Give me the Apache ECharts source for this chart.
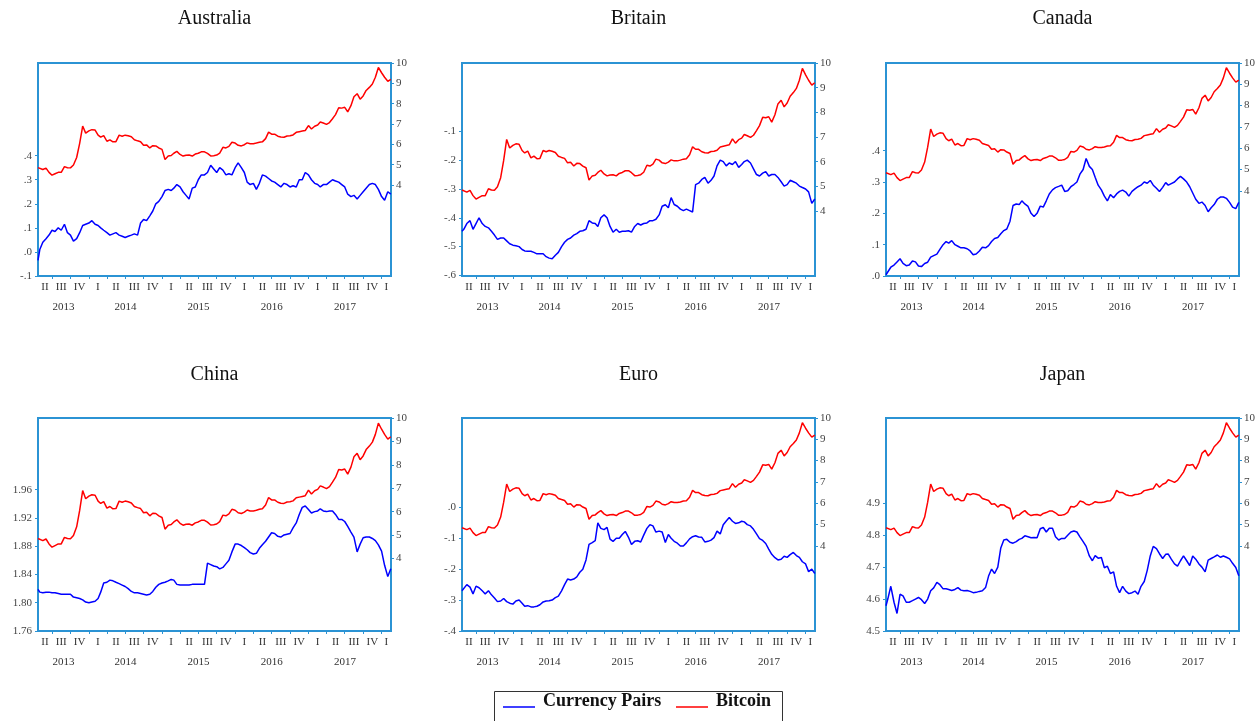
<!DOCTYPE html>
<html>
<head>
<meta charset="utf-8">
<script src="https://cdn.jsdelivr.net/npm/echarts@6/dist/echarts.min.js"></script>
<style>
  html, body { margin: 0; padding: 0; background: #ffffff; }
  #chart { width: 1260px; height: 721px; }
</style>
</head>
<body>
<div id="chart"></div>
<script>
// Observation dates: 22 Apr 2013, then the 1st and 16th of every month up to 16 Feb 2018
const obsDates = (function () {
  const d = [Date.UTC(2013, 3, 22)];
  let y = 2013, m = 4;
  while (y < 2018 || m <= 1) {
    d.push(Date.UTC(y, m, 1));
    d.push(Date.UTC(y, m, 16));
    m++;
    if (m > 11) { m = 0; y++; }
  }
  return d;
})();

// Bitcoin, log price (right axis of every panel)
const bitcoin = [
  4.85, 4.78, 4.76, 4.83, 4.62, 4.48, 4.55, 4.62, 4.62, 4.90,
  4.85, 4.84, 4.98, 5.35, 6.05, 6.90, 6.55, 6.66, 6.72, 6.70,
  6.45, 6.35, 6.43, 6.15, 6.22, 6.12, 6.13, 6.45, 6.40, 6.45,
  6.42, 6.37, 6.22, 6.17, 6.13, 5.95, 5.97, 5.82, 5.93, 5.92,
  5.82, 5.75, 5.25, 5.42, 5.45, 5.56, 5.65, 5.50, 5.42, 5.46,
  5.47, 5.42, 5.52, 5.56, 5.63, 5.63, 5.55, 5.43, 5.44, 5.47,
  5.57, 5.85, 5.82, 5.90, 6.10, 6.06, 5.95, 5.92, 5.98, 6.07,
  6.03, 6.03, 6.06, 6.10, 6.12, 6.28, 6.60, 6.50, 6.50, 6.40,
  6.36, 6.35, 6.41, 6.42, 6.46, 6.59, 6.62, 6.65, 6.68, 6.92,
  6.75, 6.89, 6.95, 7.10, 7.05, 6.98, 7.07, 7.26, 7.46, 7.80,
  7.78, 7.82, 7.60, 7.90, 8.34, 8.49, 8.22, 8.38, 8.65, 8.80,
  8.97, 9.30, 9.78, 9.52, 9.30, 9.10, 9.20
];

// Currency pairs, log exchange rates (left axis)
const australia = [
  -0.035, 0.01, 0.04, 0.055, 0.07, 0.09, 0.085, 0.10, 0.09, 0.115,
  0.08, 0.07, 0.045, 0.055, 0.08, 0.11, 0.115, 0.12, 0.13, 0.115,
  0.11, 0.10, 0.09, 0.08, 0.07, 0.075, 0.08, 0.07, 0.065, 0.06,
  0.065, 0.07, 0.075, 0.07, 0.12, 0.135, 0.13, 0.15, 0.17, 0.20,
  0.21, 0.23, 0.255, 0.26, 0.255, 0.265, 0.28, 0.27, 0.25, 0.235,
  0.22, 0.265, 0.27, 0.30, 0.32, 0.32, 0.33, 0.36, 0.345, 0.33,
  0.35, 0.34, 0.32, 0.325, 0.32, 0.35, 0.37, 0.35, 0.33, 0.29,
  0.28, 0.285, 0.26, 0.285, 0.32, 0.315, 0.305, 0.295, 0.29, 0.28,
  0.27, 0.285, 0.28, 0.27, 0.275, 0.27, 0.30, 0.30, 0.33, 0.32,
  0.30, 0.285, 0.28, 0.27, 0.28, 0.28, 0.29, 0.30, 0.295, 0.29,
  0.28, 0.27, 0.24, 0.23, 0.235, 0.22, 0.235, 0.25, 0.265, 0.28,
  0.285, 0.28, 0.26, 0.23, 0.215, 0.25, 0.24
];
const britain = [
  -0.447, -0.44, -0.42, -0.41, -0.44, -0.42, -0.40, -0.42, -0.43, -0.435,
  -0.447, -0.46, -0.475, -0.47, -0.47, -0.48, -0.49, -0.495, -0.497, -0.50,
  -0.51, -0.515, -0.516, -0.516, -0.52, -0.525, -0.525, -0.525, -0.535, -0.54,
  -0.542, -0.53, -0.52, -0.50, -0.485, -0.475, -0.47, -0.46, -0.455, -0.447,
  -0.445, -0.44, -0.41, -0.418, -0.42, -0.43, -0.40, -0.39, -0.40, -0.43,
  -0.45, -0.44, -0.45, -0.447, -0.447, -0.445, -0.45, -0.43, -0.42, -0.425,
  -0.42, -0.418, -0.41, -0.41, -0.405, -0.39, -0.36, -0.355, -0.365, -0.33,
  -0.354, -0.36, -0.37, -0.375, -0.37, -0.375, -0.38, -0.285, -0.28, -0.267,
  -0.26, -0.28, -0.27, -0.255, -0.22, -0.20, -0.205, -0.22, -0.21, -0.215,
  -0.205, -0.225, -0.215, -0.205, -0.20, -0.21, -0.23, -0.25, -0.255, -0.245,
  -0.24, -0.255, -0.25, -0.25, -0.26, -0.275, -0.29, -0.285, -0.27, -0.275,
  -0.28, -0.29, -0.295, -0.30, -0.31, -0.35, -0.335
];
const canada = [
  0.004, 0.01, 0.028, 0.035, 0.045, 0.055, 0.04, 0.033, 0.035, 0.048,
  0.045, 0.032, 0.03, 0.04, 0.044, 0.06, 0.065, 0.07, 0.085, 0.10,
  0.11, 0.105, 0.113, 0.10, 0.095, 0.09, 0.09, 0.087, 0.08, 0.068,
  0.07, 0.08, 0.092, 0.09, 0.097, 0.11, 0.12, 0.123, 0.135, 0.145,
  0.15, 0.175, 0.225, 0.23, 0.228, 0.24, 0.23, 0.222, 0.20, 0.19,
  0.20, 0.223, 0.22, 0.24, 0.262, 0.275, 0.282, 0.286, 0.29, 0.27,
  0.272, 0.285, 0.292, 0.30, 0.325, 0.34, 0.375, 0.35, 0.34, 0.315,
  0.29, 0.275, 0.255, 0.24, 0.26, 0.25, 0.262, 0.27, 0.274, 0.268,
  0.255, 0.27, 0.278, 0.285, 0.29, 0.30, 0.296, 0.305, 0.29, 0.28,
  0.27, 0.283, 0.298, 0.29, 0.295, 0.30, 0.31, 0.318, 0.31, 0.30,
  0.285, 0.265, 0.245, 0.232, 0.236, 0.225, 0.205, 0.218, 0.228, 0.245,
  0.252, 0.252, 0.248, 0.235, 0.22, 0.215, 0.235
];
const china = [
  1.819, 1.815, 1.814, 1.815, 1.815, 1.814, 1.814, 1.813, 1.812, 1.812,
  1.812, 1.812, 1.808, 1.807, 1.806, 1.804, 1.801, 1.800, 1.801, 1.802,
  1.806, 1.815, 1.828, 1.829, 1.832, 1.831, 1.829, 1.827, 1.825, 1.823,
  1.820, 1.816, 1.814, 1.814, 1.813, 1.812, 1.811, 1.812, 1.816, 1.822,
  1.826, 1.828, 1.829, 1.831, 1.833, 1.832, 1.826, 1.825, 1.825, 1.825,
  1.825, 1.826, 1.826, 1.826, 1.826, 1.826, 1.856, 1.854, 1.852, 1.851,
  1.848, 1.850, 1.855, 1.860, 1.872, 1.883, 1.883, 1.881, 1.878, 1.875,
  1.871, 1.869, 1.870, 1.877, 1.882, 1.887, 1.893, 1.899, 1.898, 1.894,
  1.893, 1.896, 1.897, 1.898, 1.906, 1.913, 1.925, 1.935, 1.937, 1.932,
  1.927, 1.929, 1.930, 1.933, 1.930, 1.929, 1.930, 1.930, 1.925, 1.918,
  1.918, 1.915, 1.908, 1.900, 1.893, 1.872, 1.883, 1.892, 1.893, 1.893,
  1.891, 1.888, 1.882, 1.873, 1.853, 1.837, 1.848
];
const euro = [
  -0.27, -0.265, -0.25, -0.258, -0.28, -0.255, -0.26, -0.27, -0.28, -0.27,
  -0.283, -0.293, -0.305, -0.303, -0.295, -0.305, -0.31, -0.313, -0.303, -0.30,
  -0.31, -0.32, -0.318, -0.322, -0.322, -0.32, -0.315, -0.306, -0.303, -0.302,
  -0.30, -0.292, -0.287, -0.27, -0.25, -0.232, -0.235, -0.232, -0.225, -0.21,
  -0.20, -0.17, -0.12, -0.114, -0.108, -0.05, -0.068, -0.072, -0.065, -0.103,
  -0.11, -0.10, -0.10, -0.088, -0.078, -0.097, -0.12, -0.11, -0.108, -0.112,
  -0.09, -0.068, -0.056, -0.06, -0.08, -0.077, -0.08, -0.114, -0.088, -0.10,
  -0.11, -0.116, -0.125, -0.125, -0.115, -0.102, -0.095, -0.092, -0.096, -0.097,
  -0.112, -0.11, -0.106, -0.098, -0.077, -0.086, -0.056, -0.044, -0.033, -0.045,
  -0.052, -0.05, -0.045, -0.047, -0.056, -0.06, -0.071, -0.086, -0.101, -0.107,
  -0.117, -0.135, -0.152, -0.163, -0.17, -0.168, -0.158, -0.162, -0.153, -0.146,
  -0.156, -0.162, -0.176, -0.183, -0.208, -0.20, -0.214
];
const japan = [
  4.579, 4.60, 4.64, 4.59, 4.555, 4.615, 4.61, 4.59, 4.59, 4.595,
  4.60, 4.605, 4.598, 4.586, 4.60, 4.626, 4.635, 4.652, 4.645, 4.632,
  4.632, 4.63, 4.627, 4.63, 4.636, 4.628, 4.626, 4.627, 4.624, 4.62,
  4.621, 4.624, 4.626, 4.636, 4.672, 4.694, 4.68, 4.70, 4.76, 4.785,
  4.787, 4.778, 4.775, 4.78, 4.787, 4.79, 4.798, 4.795, 4.792, 4.793,
  4.792, 4.82, 4.824, 4.81, 4.822, 4.822, 4.795, 4.785, 4.79, 4.79,
  4.80, 4.81, 4.813, 4.81, 4.795, 4.78, 4.765, 4.735, 4.72, 4.736,
  4.728, 4.73, 4.698, 4.703, 4.68, 4.685, 4.64, 4.62, 4.64, 4.625,
  4.617, 4.62, 4.625, 4.615, 4.64, 4.655, 4.69, 4.735, 4.765, 4.758,
  4.742, 4.727, 4.74, 4.741, 4.725, 4.71, 4.703, 4.72, 4.735, 4.72,
  4.705, 4.735, 4.725, 4.71, 4.70, 4.685, 4.722, 4.727, 4.732, 4.738,
  4.731, 4.735, 4.731, 4.726, 4.712, 4.699, 4.673
];

const panelNames = ['Australia', 'Britain', 'Canada', 'China', 'Euro', 'Japan'];
const currencyData = [australia, britain, canada, china, euro, japan];

// Labelled values on the left axes
const leftTickValues = [
  [-0.1, 0, 0.1, 0.2, 0.3, 0.4],
  [-0.6, -0.5, -0.4, -0.3, -0.2, -0.1],
  [0, 0.1, 0.2, 0.3, 0.4],
  [1.76, 1.80, 1.84, 1.88, 1.92, 1.96],
  [-0.4, -0.3, -0.2, -0.1, 0],
  [4.5, 4.6, 4.7, 4.8, 4.9]
];
const leftDecimals = [1, 1, 1, 2, 1, 1];
// Labelled values on the right axes
const rightTickValues = [4, 5, 6, 7, 8, 9, 10];
const romanQuarters = ['I', 'II', 'III', 'IV'];

// Axis extents for each panel
const leftRange = [[-0.1, 0.785], [-0.602, 0.137], [0, 0.68], [1.76, 2.0615], [-0.4, 0.289], [4.5, 5.167]];
const rightRange = [[-0.48, 10], [1.36, 10], [0, 10], [0.9, 10], [0, 10], [0, 10]];

// Layout
const gridLefts = [38, 462, 886];
const gridTops = [63, 418];
const gridWidth = 353;
const gridHeight = 213;
const frameBlue = '#2b93d4';
const tickFont = 'Liberation Serif';

const xMin = Date.UTC(2013, 3, 22);
const xMax = Date.UTC(2018, 1, 17);

// Quarter boundaries, quarter centres and year centres (clipped to the visible span)
const quarterBounds = [], quarterMids = [], yearMids = [];
for (let y = 2013; y <= 2018; y++) {
  for (let q = 0; q < 4; q++) {
    const s = Date.UTC(y, q * 3, 1), e = Date.UTC(y, q * 3 + 3, 1);
    if (s > xMin && s < xMax) quarterBounds.push(s);
    const a = Math.max(s, xMin), b = Math.min(e, xMax);
    if (b > a) quarterMids.push((a + b) / 2);
  }
  if (y <= 2017) {
    const a = Math.max(Date.UTC(y, 0, 1), xMin), b = Math.min(Date.UTC(y + 1, 0, 1), xMax);
    yearMids.push((a + b) / 2);
  }
}

function fmtLeft(v, dec) {
  let s = Math.abs(v) < 1e-9 ? (0).toFixed(dec) : v.toFixed(dec);
  return s.replace(/^(-?)0\./, '$1.');
}

const grids = [], xAxes = [], yAxes = [], series = [], graphics = [];

panelNames.forEach(function (name, i) {
  const col = i % 3, row = Math.floor(i / 3);
  const left = gridLefts[col], top = gridTops[row];
  grids.push({
    left: left, top: top, width: gridWidth, height: gridHeight,
    show: true, borderColor: frameBlue, borderWidth: 2, backgroundColor: 'transparent'
  });

  xAxes.push({
    type: 'value', gridIndex: i, min: xMin, max: xMax, position: 'bottom',
    axisLine: { show: true, onZero: false, lineStyle: { color: frameBlue, width: 2 } },
    axisTick: { show: true, customValues: quarterBounds, length: 3, lineStyle: { color: frameBlue, width: 1 } },
    axisLabel: {
      customValues: quarterMids, margin: 6, fontFamily: tickFont, fontSize: 11, color: '#333',
      formatter: function (v) { return romanQuarters[Math.floor(new Date(v).getUTCMonth() / 3)]; }
    },
    splitLine: { show: false }
  });
  xAxes.push({
    type: 'value', gridIndex: i, min: xMin, max: xMax, position: 'bottom', offset: 20,
    axisLine: { show: false, onZero: false }, axisTick: { show: false },
    axisLabel: {
      customValues: yearMids, margin: 6, fontFamily: tickFont, fontSize: 11, color: '#333',
      formatter: function (v) { return String(new Date(v).getUTCFullYear()); }
    },
    splitLine: { show: false }
  });

  yAxes.push({
    type: 'value', gridIndex: i, position: 'left', min: leftRange[i][0], max: leftRange[i][1],
    axisLine: { show: true, onZero: false, lineStyle: { color: frameBlue, width: 2 } },
    axisTick: { show: true, customValues: leftTickValues[i], length: 3, lineStyle: { color: frameBlue, width: 1 } },
    axisLabel: {
      customValues: leftTickValues[i], margin: 6, fontFamily: tickFont, fontSize: 11, color: '#444',
      formatter: function (v) { return fmtLeft(v, leftDecimals[i]); }
    },
    splitLine: { show: false }
  });
  yAxes.push({
    type: 'value', gridIndex: i, position: 'right', min: rightRange[i][0], max: rightRange[i][1],
    axisLine: { show: true, onZero: false, lineStyle: { color: frameBlue, width: 2 } },
    axisTick: { show: true, customValues: rightTickValues, length: 3, lineStyle: { color: frameBlue, width: 1 } },
    axisLabel: {
      customValues: rightTickValues, margin: 5, fontFamily: tickFont, fontSize: 11, color: '#444',
      formatter: function (v) { return String(Math.round(v)); }
    },
    splitLine: { show: false }
  });

  series.push({
    type: 'line', name: 'Currency Pairs', xAxisIndex: 2 * i, yAxisIndex: 2 * i,
    data: obsDates.map(function (t, k) { return [t, currencyData[i][k]]; }),
    showSymbol: false, silent: true, lineStyle: { color: '#0000ff', width: 1.5 }, itemStyle: { color: '#0000ff' }
  });
  series.push({
    type: 'line', name: 'Bitcoin', xAxisIndex: 2 * i, yAxisIndex: 2 * i + 1,
    data: obsDates.map(function (t, k) { return [t, bitcoin[k]]; }),
    showSymbol: false, silent: true, lineStyle: { color: '#ff0000', width: 1.5 }, itemStyle: { color: '#ff0000' }
  });

  graphics.push({
    type: 'text', x: left + gridWidth / 2, y: row === 0 ? 19 : 375,
    style: { text: name, align: 'center', verticalAlign: 'middle', font: '20px "Liberation Serif"', fill: '#111' }
  });
});

// Legend box
graphics.push(
  { type: 'rect', shape: { x: 494.5, y: 691.5, width: 288, height: 40 }, style: { fill: '#fff', stroke: '#333', lineWidth: 1 } },
  { type: 'line', shape: { x1: 503, y1: 707, x2: 535, y2: 707 }, style: { stroke: '#0000ff', lineWidth: 1.5 } },
  { type: 'text', x: 543, y: 701, style: { text: 'Currency Pairs', verticalAlign: 'middle', font: 'bold 18px "Liberation Serif"', fill: '#111' } },
  { type: 'line', shape: { x1: 676, y1: 707, x2: 708, y2: 707 }, style: { stroke: '#ff0000', lineWidth: 1.5 } },
  { type: 'text', x: 716, y: 701, style: { text: 'Bitcoin', verticalAlign: 'middle', font: 'bold 18px "Liberation Serif"', fill: '#111' } }
);

const chart = echarts.init(document.getElementById('chart'), null, { renderer: 'canvas' });
chart.setOption({
  animation: false,
  backgroundColor: '#ffffff',
  grid: grids,
  xAxis: xAxes,
  yAxis: yAxes,
  series: series,
  graphic: graphics
});
</script>
</body>
</html>
